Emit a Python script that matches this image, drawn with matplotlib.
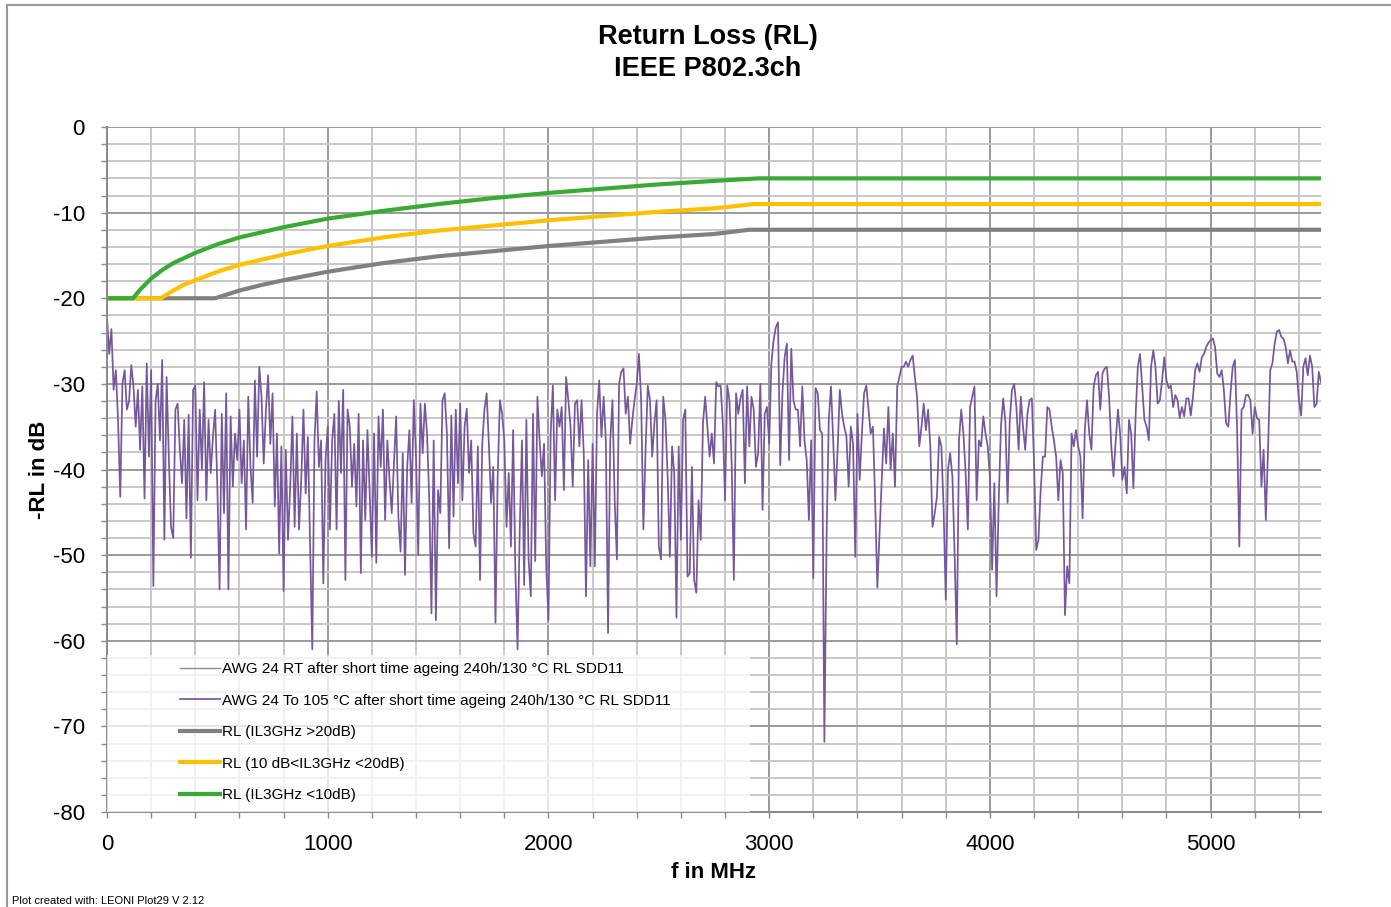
import numpy as np
import matplotlib
matplotlib.use('Agg')
import matplotlib.pyplot as plt
from matplotlib.lines import Line2D
from matplotlib.patches import Rectangle

plt.rcParams['font.family'] = ['Liberation Sans', 'DejaVu Sans']
plt.rcParams['axes.unicode_minus'] = False

# measured RL SDD11 (AWG 24, To 105 °C), read every 10 MHz from 0 to 5500 MHz
rl_0_1450 = [
    -22.2, -26.5, -23.6, -30.7, -28.4, -34.2, -43.2, -30.0, -28.4, -33.0,
    -32.0, -27.8, -30.3, -35.0, -30.7, -37.7, -30.3, -43.4, -27.6, -38.5,
    -28.4, -53.6, -32.0, -30.0, -36.6, -27.2, -48.2, -29.2, -38.5, -46.7,
    -48.0, -33.0, -32.3, -37.7, -41.6, -34.2, -45.7, -33.6, -50.3, -30.7,
    -30.2, -43.6, -33.0, -40.0, -29.8, -43.6, -34.2, -40.4, -36.2, -33.0,
    -42.0, -54.0, -33.5, -45.1, -31.1, -54.0, -33.8, -42.0, -35.8, -38.9,
    -33.0, -41.6, -36.6, -47.0, -31.5, -39.7, -43.9, -29.6, -38.5, -28.0,
    -31.5, -39.3, -33.0, -29.0, -37.0, -31.1, -44.3, -35.8, -49.8, -37.3,
    -54.2, -37.7, -48.2, -42.0, -33.8, -46.7, -35.8, -47.0, -41.2, -33.0,
    -42.8, -36.2, -48.8, -61.0, -36.6, -30.9, -39.7, -36.6, -53.3, -38.9,
    -35.0, -47.0, -36.6, -33.5, -47.0, -32.0, -40.4, -30.7, -52.9, -33.0,
    -35.0, -42.0, -37.0, -44.3, -33.5, -52.1, -36.6, -45.9, -35.4, -42.8,
    -50.2, -35.8, -50.9, -33.8, -39.7, -33.0, -45.9, -36.6, -41.2, -45.1,
    -39.3, -33.8, -45.5, -49.6, -38.1, -52.3, -39.7, -35.4, -43.9, -31.9,
    -38.5, -50.0, -32.3, -38.1, -32.3, -35.8,
]
rl_1460_2900 = [
    -43.6, -56.8, -36.6, -57.6, -42.4, -45.1, -31.9, -31.1, -35.8, -49.2,
    -33.7, -45.5, -33.0, -41.6, -32.3, -43.6, -35.0, -32.9, -40.4, -36.6,
    -47.4, -49.0, -37.3, -52.9, -37.0, -33.0, -31.1, -37.0, -43.9, -39.7,
    -57.9, -40.8, -31.9, -33.5, -36.6, -46.7, -40.4, -49.0, -35.4, -51.7,
    -61.0, -47.0, -36.6, -53.5, -34.2, -50.5, -54.8, -33.5, -50.7, -31.5,
    -36.6, -40.8, -37.0, -51.3, -57.6, -35.8, -30.2, -43.6, -33.0, -35.0,
    -32.7, -42.4, -29.2, -31.9, -35.0, -42.0, -32.3, -31.9, -37.3, -31.9,
    -38.1, -54.8, -38.9, -51.3, -37.0, -51.3, -33.5, -29.6, -36.2, -31.5,
    -36.6, -59.1, -36.6, -31.9, -43.6, -50.5, -30.0, -28.6, -28.2, -33.5,
    -31.5, -37.0, -34.2, -31.9, -30.0, -26.5, -31.9, -47.0, -37.7, -30.2,
    -31.9, -38.5, -34.6, -31.9, -49.0, -50.5, -31.5, -34.2, -40.8, -50.2,
    -37.3, -40.4, -57.3, -37.3, -48.2, -34.2, -33.0, -52.5, -52.1, -39.7,
    -52.9, -54.4, -43.6, -48.2, -34.6, -31.5, -35.0, -38.5, -35.8, -39.3,
    -29.8, -30.3, -30.2, -34.6, -43.6, -30.2, -31.9, -39.3, -52.9, -31.1,
    -33.5, -31.7, -30.7, -41.6, -30.3,
]
rl_2910_4360 = [
    -37.3, -31.5, -33.0, -39.7, -38.1, -30.0, -44.7, -33.5, -32.7, -37.0,
    -27.6, -24.9, -23.4, -22.8, -39.5, -31.1, -26.9, -25.3, -38.9, -25.9,
    -31.9, -33.0, -33.0, -37.3, -30.3, -36.6, -38.9, -45.9, -36.6, -52.7,
    -30.5, -31.1, -35.4, -35.8, -71.8, -48.0, -34.2, -30.3, -36.6, -43.6,
    -37.7, -30.7, -33.5, -35.0, -36.2, -42.0, -35.0, -37.0, -50.2, -33.5,
    -41.2, -35.8, -31.1, -30.2, -33.0, -35.8, -35.0, -43.6, -53.8, -47.4,
    -41.2, -35.2, -39.3, -32.7, -40.0, -35.8, -42.0, -30.3, -29.2, -28.0,
    -28.0, -27.4, -28.0, -27.2, -26.7, -29.2, -31.5, -37.3, -35.0, -32.3,
    -35.4, -33.0, -37.3, -46.7, -45.1, -43.2, -36.2, -37.3, -44.3, -55.2,
    -40.0, -38.1, -40.8, -49.8, -60.4, -36.6, -33.0, -35.8, -40.4, -47.0,
    -32.7, -31.5, -30.3, -43.6, -36.6, -37.3, -33.8, -35.8, -37.3, -40.8,
    -51.7, -41.6, -54.8, -43.6, -35.0, -31.7, -34.4, -43.9, -34.2, -30.7,
    -30.0, -32.7, -37.7, -31.5, -35.0, -37.7, -33.5, -31.9, -31.7, -39.3,
    -49.4, -48.2, -42.4, -38.5, -38.5, -32.7, -33.0, -35.0, -36.6, -38.5,
    -43.6, -38.9, -40.4, -57.0, -51.3, -53.3,
]
rl_4370_5500 = [
    -35.8, -37.3, -35.4, -37.3, -38.5, -45.7, -35.4, -31.9, -35.8, -37.7,
    -30.3, -29.0, -28.6, -33.0, -28.8, -28.2, -28.0, -31.5, -37.3, -40.8,
    -36.6, -33.0, -35.8, -41.2, -39.7, -42.8, -34.2, -35.8, -42.2, -33.8,
    -28.0, -26.5, -30.3, -34.2, -35.0, -36.6, -28.0, -26.1, -28.0, -32.3,
    -31.9, -29.6, -26.9, -29.6, -30.5, -30.2, -32.7, -31.3, -31.9, -34.0,
    -32.7, -33.8, -31.7, -31.7, -33.7, -31.5, -28.4, -27.6, -28.6, -26.9,
    -26.5, -25.7, -25.2, -24.9, -24.7, -25.7, -28.8, -29.2, -28.4, -30.7,
    -34.6, -35.0, -31.1, -28.0, -27.2, -35.4, -49.0, -33.0, -32.7, -31.3,
    -31.3, -31.9, -35.8, -32.7, -34.0, -34.2, -42.0, -37.7, -45.9, -37.7,
    -28.4, -27.6, -25.3, -23.9, -23.7, -24.5, -24.7, -25.7, -27.6, -26.1,
    -27.4, -27.4, -28.6, -31.9, -33.7, -28.0, -27.0, -29.0, -26.7, -28.0,
    -32.7, -32.3, -28.6, -29.8,
]
rl_meas = rl_0_1450 + rl_1460_2900 + rl_2910_4360 + rl_4370_5500
f_meas = np.arange(len(rl_meas)) * 10

# limit lines (f in MHz, -RL in dB)
f_lim_green = [0, 118, 150, 200, 250, 300, 400, 500, 600, 800, 1000, 1250, 1500,
               1750, 2000, 2250, 2500, 2750, 2950, 5500]
lim_green = [-20, -20, -19.0, -17.7, -16.7, -15.9, -14.7, -13.7, -12.9, -11.7,
             -10.7, -9.8, -9.0, -8.3, -7.7, -7.2, -6.7, -6.3, -6.0, -6.0]
f_lim_yellow = [0, 245, 300, 350, 400, 500, 600, 800, 1000, 1250, 1500, 1750,
                2000, 2250, 2500, 2750, 2930, 5500]
lim_yellow = [-20, -20, -19.1, -18.4, -17.9, -16.9, -16.1, -14.9, -13.9, -12.9,
              -12.1, -11.5, -10.9, -10.4, -9.9, -9.5, -9.0, -9.0]
f_lim_grey = [0, 490, 600, 700, 800, 1000, 1250, 1500, 1750, 2000, 2250, 2500,
              2750, 2910, 5500]
lim_grey = [-20, -20, -19.1, -18.45, -17.9, -16.9, -15.9, -15.1, -14.5, -13.9,
            -13.4, -12.9, -12.5, -12.0, -12.0]

labels = ['AWG 24 RT after short time ageing 240h/130 °C RL SDD11',
          'AWG 24 To 105 °C after short time ageing 240h/130 °C RL SDD11',
          'RL (IL3GHz >20dB)',
          'RL (10 dB<IL3GHz <20dB)',
          'RL (IL3GHz <10dB)']

W, H = 1391, 907
fig = plt.figure(figsize=(W / 100, H / 100), dpi=100)
ax = fig.add_axes([107 / W, 1 - 812 / H, (1321 - 107) / W, (812 - 127) / H])

ax.set_xlim(0, 5500)
ax.set_ylim(-80, 0)
ax.set_xticks(np.arange(0, 5001, 1000))
ax.set_xticks(np.arange(0, 5500, 200), minor=True)
ax.set_yticks(np.arange(-80, 1, 10))
ax.set_yticks(np.arange(-80, 1, 2), minor=True)
ax.grid(which='minor', color='#c8c8c8', linewidth=1.4, zorder=0)
ax.grid(which='major', color='#9a9a9a', linewidth=1.4, zorder=0)
ax.set_axisbelow(True)
for s in ['top', 'right']:
    ax.spines[s].set_visible(False)
for s in ['left', 'bottom']:
    ax.spines[s].set_color('#8a8a8a')
    ax.spines[s].set_linewidth(1.4)
ax.tick_params(which='both', direction='out', length=4, color='#8a8a8a', width=1)
ax.tick_params(axis='both', which='major', labelsize=16, pad=12)

ax.plot([], [], color='#8c8c8c', lw=1.0, label=labels[0])
ax.plot(f_meas, rl_meas, color='#76579c', lw=1.25, label=labels[1], zorder=2)
ax.plot(f_lim_grey, lim_grey, color='#808080', lw=3, label=labels[2], zorder=2)
ax.plot(f_lim_yellow, lim_yellow, color='#ffc000', lw=3, label=labels[3], zorder=2)
ax.plot(f_lim_green, lim_green, color='#3aaa35', lw=3, label=labels[4], zorder=2)

# translucent legend backdrop
ax.add_patch(Rectangle((0, 0), (750 - 107) / 1214, (812 - 655) / 685,
                       transform=ax.transAxes, facecolor='white', alpha=0.75,
                       edgecolor='none', zorder=3))
leg = ax.legend(loc='upper left', bbox_to_anchor=((180 - 107) / 1214, (812 - 662) / 685),
                frameon=False, fontsize=11, handlelength=2.6, handletextpad=0.15,
                labelspacing=1.15, borderpad=0, borderaxespad=0)
leg.set_zorder(4)

ax.set_xlabel('f in MHz', fontsize=16, fontweight='bold', labelpad=5)
ax.set_ylabel('-RL in dB', fontsize=16, fontweight='bold', labelpad=2)

fig.text(708 / W, 1 - 37 / H, 'Return Loss (RL)', ha='center', va='center',
         fontsize=19.5, fontweight='bold')
fig.text(708 / W, 1 - 69 / H, 'IEEE P802.3ch', ha='center', va='center',
         fontsize=19.5, fontweight='bold')
fig.text(12 / W, 1 - 901 / H, 'Plot created with: LEONI Plot29 V 2.12',
         ha='left', va='center', fontsize=8)

fig.add_artist(Line2D([7 / W, 1], [1 - 5 / H, 1 - 5 / H], color='#9a9a9a', lw=1.5))
fig.add_artist(Line2D([7 / W, 7 / W], [0, 1 - 5 / H], color='#9a9a9a', lw=1.5))

fig.savefig('out.png', dpi=100)
